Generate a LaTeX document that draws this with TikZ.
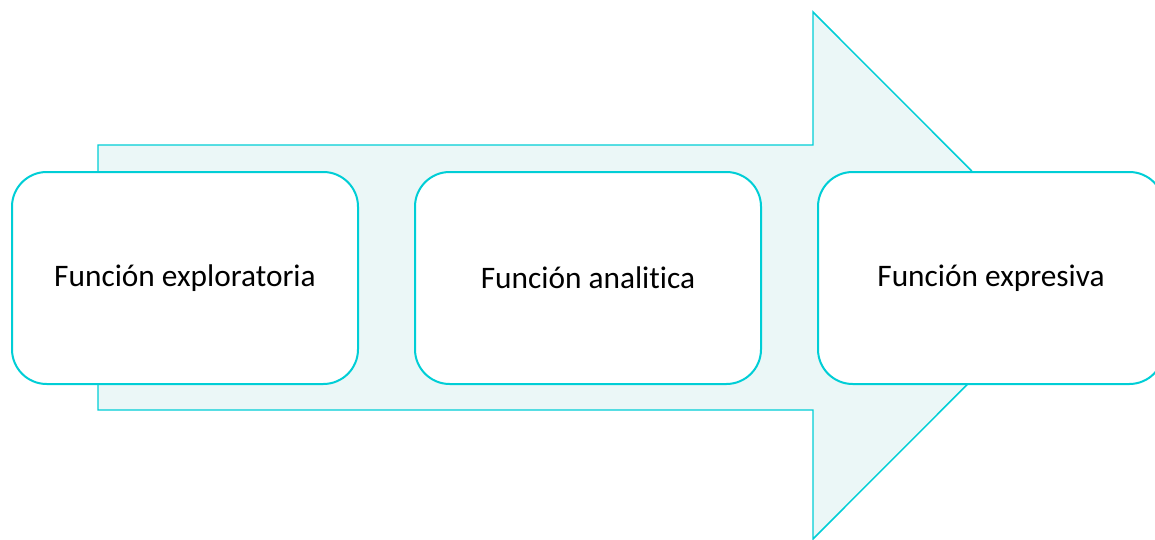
\documentclass[tikz,border=0pt]{standalone}
\usepackage{fontspec}
\setmainfont{Carlito}[Ligatures=NoCommon]
\definecolor{turq}{RGB}{0,206,214}
\definecolor{turqfill}{RGB}{235,247,247}

\begin{document}
\begin{tikzpicture}[x=0.75pt,y=-0.75pt,
    stage/.style={draw=turq,line width=1.5pt,fill=white,rounded corners=26pt,
        minimum width=259.5pt,minimum height=159pt,inner sep=0pt,
        font=\fontsize{23.5}{28}\selectfont}]
    \useasboundingbox (0,0) rectangle (1155,539);

    % big arrow behind the boxes
    \draw[turq,line width=1.1pt,fill=turqfill,line join=miter]
        (98,145)--(813,145)--(813,12)--(1076,275.5)--(813,539)--(813,410)--(98,410)--cycle;

    \node[stage] (explo) at (185,278) {Función exploratoria};
    \node[stage] (anal) at (588,278) {Función analitica};
    \node[stage] (expre) at (991,278) {Función expresiva};
\end{tikzpicture}
\end{document}
